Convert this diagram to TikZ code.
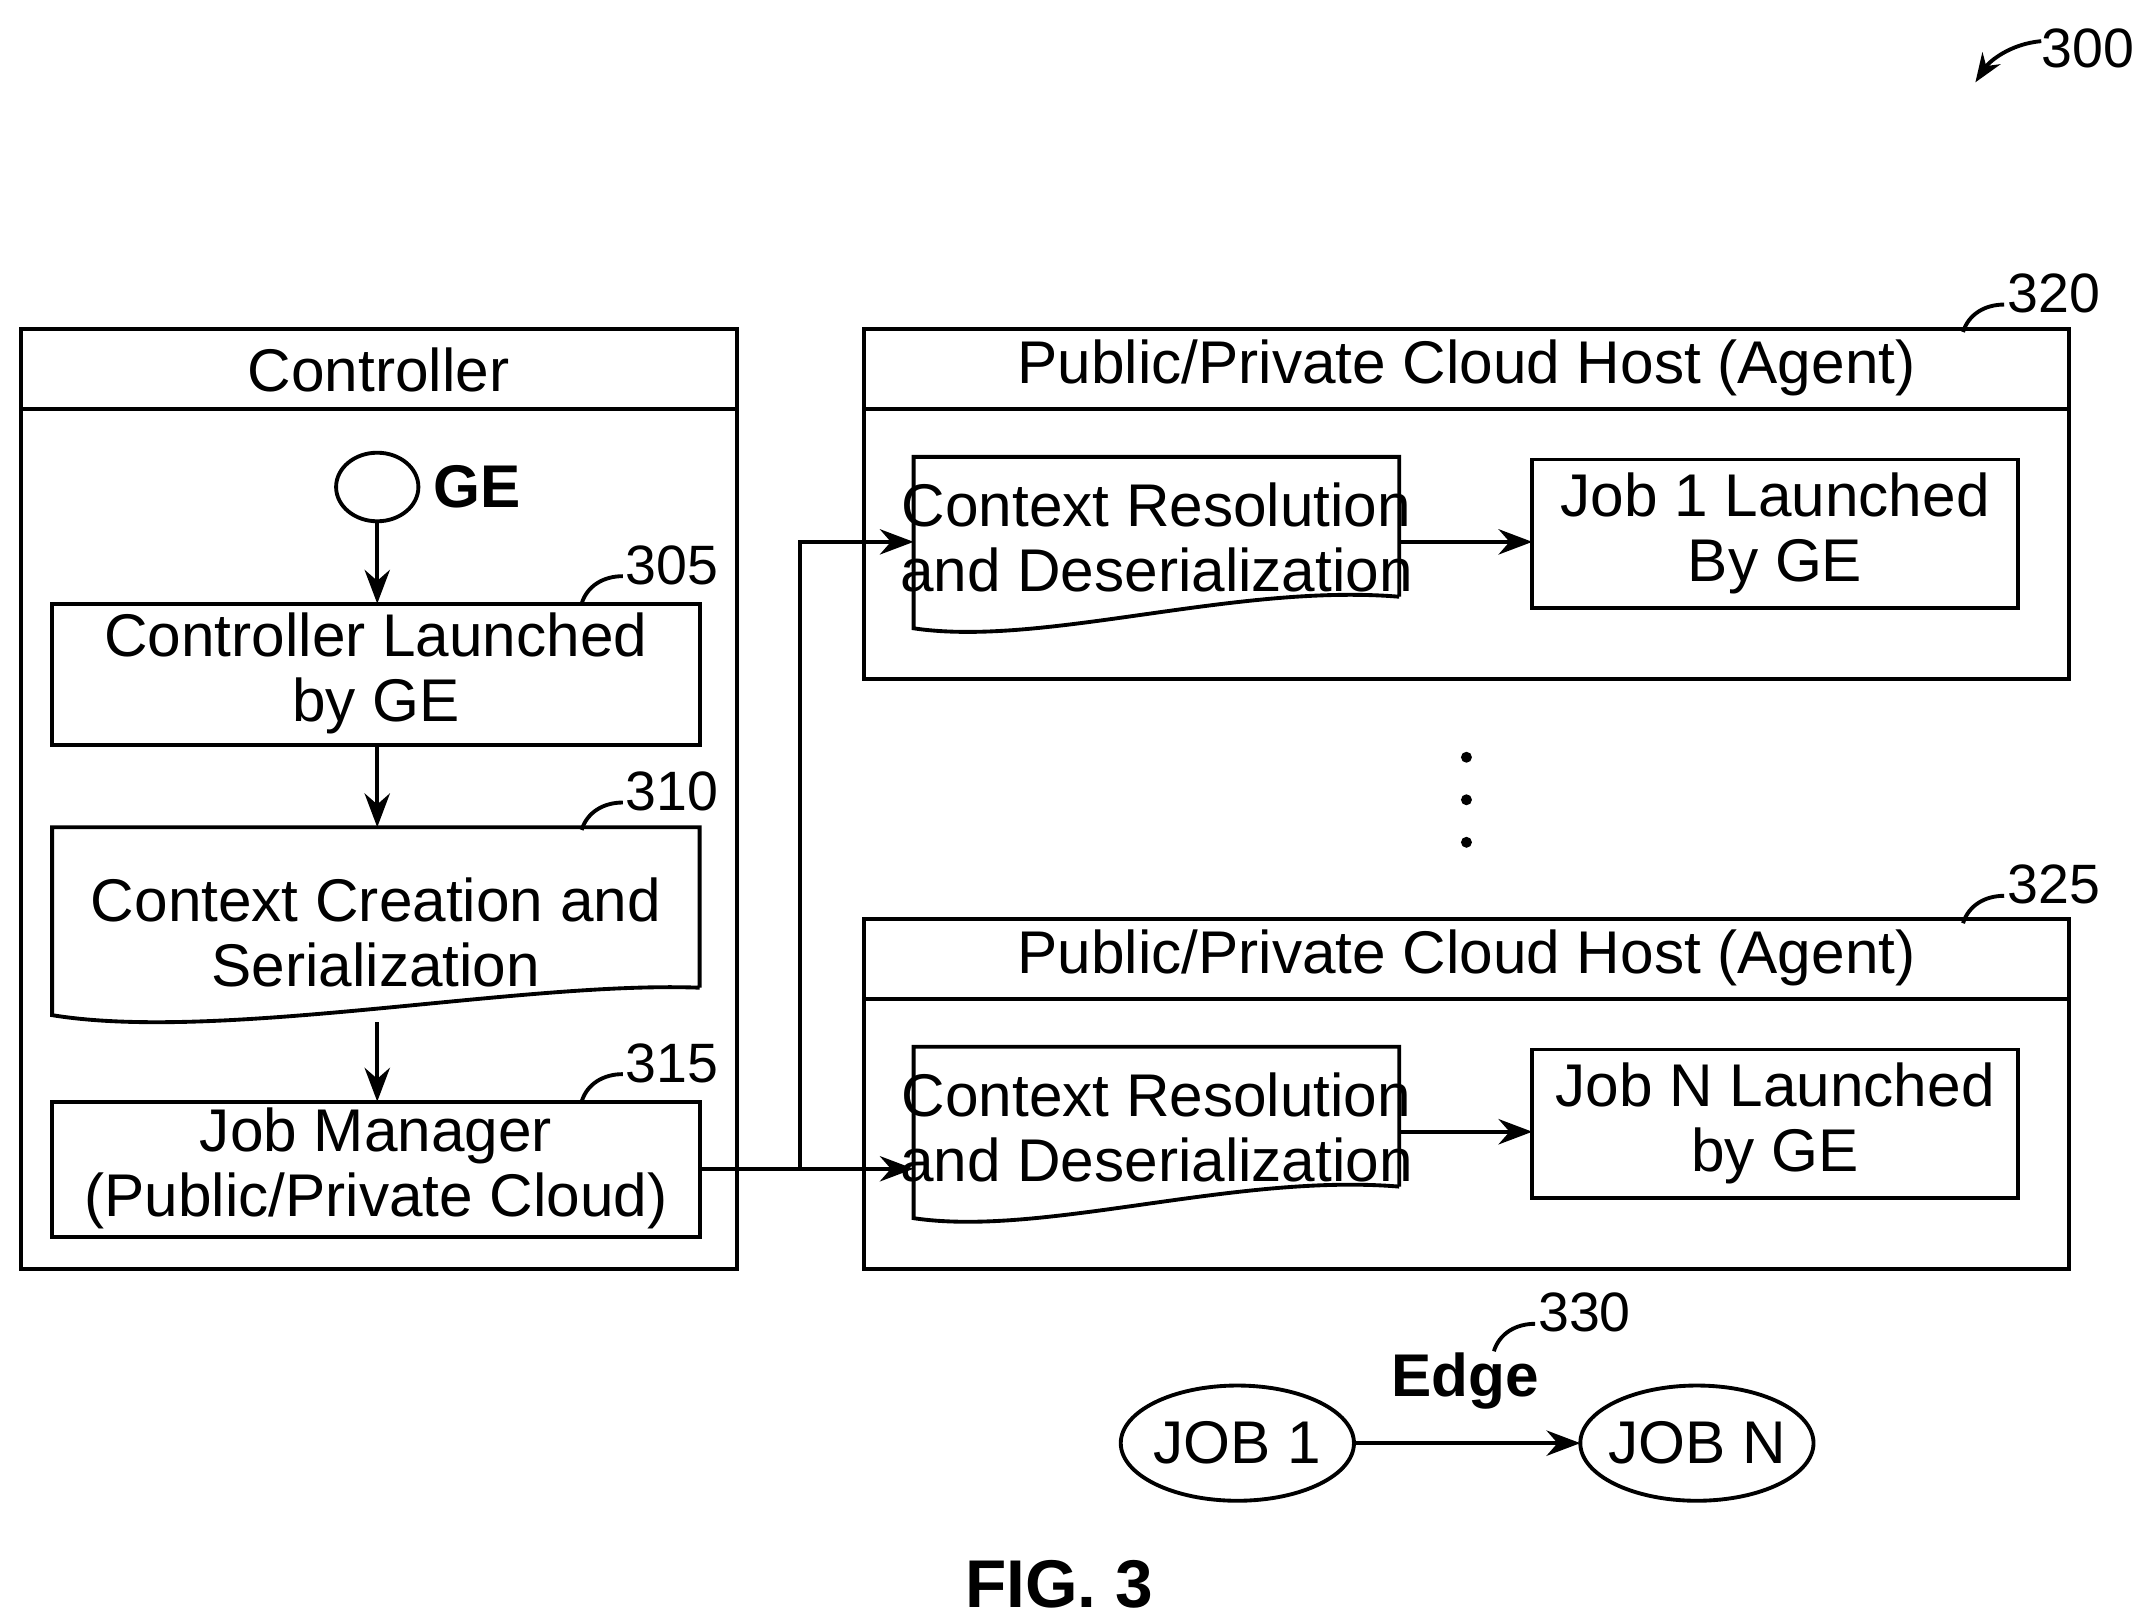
\documentclass[tikz,border=0pt]{standalone}
\usepackage{fontspec}
\setmainfont{Liberation Sans}
\usetikzlibrary{arrows.meta}

\tikzset{
  txt/.style = {font = \fontsize{12.5}{13.5}\selectfont, align = center},
  num/.style = {font = \fontsize{11.5}{12}\selectfont},
  arr/.style = {-{Stealth[length = 7pt]}, thick}
}

\begin{document}
\begin{tikzpicture}[x = 0.01cm, y = -0.01cm]
        \useasboundingbox (0,0) rectangle (1560,1181);

        % Controller
        \draw[thick] (15,240) rectangle (537,925);
        \draw[thick] (15,298) -- (537,298);
        \node [txt] (ctl) at (276,270) {Controller};
        \draw[thick] (275,355) ellipse (30 and 25);
        \node (ge) at (275,355) {};
        \node [font = \fontsize{12.5}{13}\selectfont\bfseries] at (348,355) {GE};

        % Steps
        \draw[thick] (38,440) rectangle (510,543);
        \node [txt] (launch) at (274,491) {Controller Launched\\by GE};
        \node [txt] (create) at (274,680) {Context Creation and\\Serialization};
        \draw[thick] (510,720) -- (510,603) -- (38,603) -- (38,740)
          .. controls (160,760) and (380,715) .. (510,720);
        \draw[thick] (38,803) rectangle (510,902);
        \node [txt] (jobmgr) at (274,852) {Job Manager\\(Public/Private Cloud)};

        \draw[arr] (275,380) -- (275,440);
        \draw[arr] (275,543) -- (275,603);
        \draw[arr] (275,745) -- (275,803);

        % Hosts
        \foreach \y/\jl/\jt in {240/1/{Job 1 Launched\\By GE}, 670/N/{Job N Launched\\by GE}} {
          \draw[thick] (630,\y) rectangle (1508,\y+255);
          \draw[thick] (630,\y+58) -- (1508,\y+58);
          \node [txt] at (1069,\y+28) {Public/Private Cloud Host (Agent)};
          \draw[thick] (1020,\y+195) -- (1020,\y+93) -- (666,\y+93) -- (666,\y+218)
            .. controls (760,\y+232) and (900,\y+185) .. (1020,\y+195);
          \node [txt] (res\jl) at (843,\y+152) {Context Resolution\\and Deserialization};
          \draw[thick] (1117,\y+95) rectangle (1471,\y+203);
          \node [txt] (job\jl) at (1294,\y+149) {\jt};
          \draw[arr] (1020,\y+155) -- (1117,\y+155);
        }

        \foreach \y in {552,583,614}
          \fill (1069,\y) circle (4);

        % Links
        \draw[arr] (510,852) -- (583,852) -- (583,395) -- (666,395);
        \draw[arr] (583,852) -- (666,852);

        % Edge example
        \draw[thick] (902,1052) ellipse (85 and 42);
        \draw[thick] (1237,1052) ellipse (85 and 42);
        \node [txt] (j1) at (902,1052) {JOB 1};
        \node [txt] (jn) at (1237,1052) {JOB N};
        \draw[arr] (987,1052) -- (1152,1052);
        \node [font = \fontsize{12.5}{13}\selectfont\bfseries] at (1068,1007) {Edge};

        % Reference numbers
        \node [num] at (1522,35) {300};
        \draw[arr, -{Stealth[length = 6pt]}] (1488,30) .. controls (1465,32) and (1450,45) .. (1440,60);
        \foreach \x/\y/\n in {490/412/305, 490/577/310, 490/775/315, 1497/214/320, 1497/645/325, 1155/957/330} {
          \node [num] at (\x,\y) {\n};
          \draw[thick] (\x-36,\y+8) .. controls (\x-50,\y+8) and (\x-62,\y+15) .. (\x-66,\y+28);
        }

        \node [font = \fontsize{14}{15}\selectfont\bfseries] at (772,1155) {FIG. 3};
\end{tikzpicture}
\end{document}
